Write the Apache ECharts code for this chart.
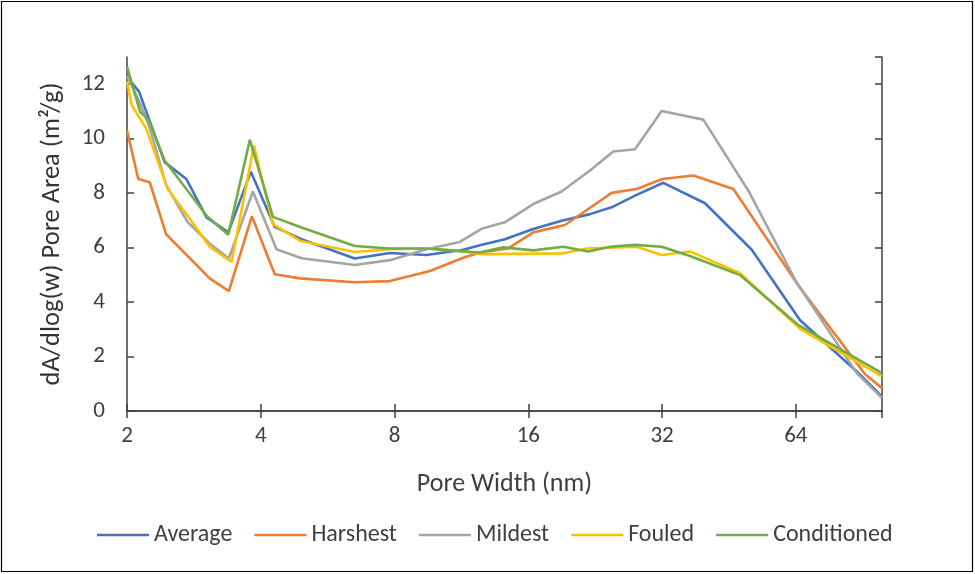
<!DOCTYPE html>
<html>
<head>
<meta charset="utf-8">
<script src="https://cdn.jsdelivr.net/npm/echarts@6/dist/echarts.min.js"></script>
<style>
  html, body { margin: 0; padding: 0; background: #fff; }
  #chart { width: 975px; height: 574px; }
</style>
</head>
<body>
<div id="chart"></div>
<script>
// Pore-size distributions (pore width in nm, dA/dlog(w) in m²/g)
const seriesNames = ['Average', 'Harshest', 'Mildest', 'Fouled', 'Conditioned'];

const averageWidths = [2.0, 2.13, 2.43, 2.72, 3.02, 3.38, 3.80, 4.30, 4.94, 6.51, 7.81, 9.44, 11.42, 12.45, 14.17, 16.41, 19.01, 22.02, 24.64, 27.81, 32.2, 39.97, 50.93, 65.41, 87.76, 100];
const averageValues = [12.28, 11.72, 9.14, 8.52, 7.11, 6.56, 8.79, 6.76, 6.31, 5.60, 5.80, 5.73, 5.92, 6.09, 6.31, 6.68, 6.99, 7.23, 7.48, 7.91, 8.38, 7.63, 5.92, 3.33, 1.45, 0.53];

const harshestWidths = [2.0, 2.12, 2.25, 2.45, 3.07, 3.39, 3.82, 4.30, 4.90, 6.51, 7.81, 9.61, 11.42, 12.45, 14.42, 16.41, 19.34, 21.83, 24.64, 28.05, 32.03, 37.62, 46.29, 64.8, 91.5, 100];
const harshestValues = [10.31, 8.52, 8.40, 6.49, 4.87, 4.40, 7.15, 5.02, 4.87, 4.73, 4.77, 5.14, 5.63, 5.82, 5.97, 6.56, 6.83, 7.42, 8.01, 8.15, 8.52, 8.65, 8.15, 4.62, 1.36, 0.84];

const mildestWidths = [2.0, 2.14, 2.25, 2.45, 2.74, 3.07, 3.39, 3.84, 4.34, 4.94, 6.51, 7.81, 9.44, 11.22, 12.55, 14.17, 16.41, 19.01, 22.02, 24.85, 27.81, 31.93, 39.62, 50.04, 64.3, 87.76, 100];
const mildestValues = [12.3, 11.3, 10.4, 8.3, 6.93, 6.15, 5.6, 8.06, 5.94, 5.61, 5.36, 5.54, 5.94, 6.21, 6.69, 6.93, 7.60, 8.06, 8.83, 9.53, 9.61, 11.02, 10.70, 8.09, 4.71, 1.39, 0.47];

const fouledWidths = [2.0, 2.05, 2.21, 2.47, 2.77, 3.07, 3.44, 3.86, 4.26, 4.92, 6.51, 7.81, 9.44, 11.2, 12.66, 19.17, 21.64, 28.05, 31.93, 36.98, 47.93, 65.41, 100];
const fouledValues = [12.1, 11.23, 10.37, 8.15, 7.05, 6.03, 5.47, 9.75, 6.86, 6.24, 5.84, 5.94, 5.97, 5.88, 5.76, 5.79, 5.97, 6.03, 5.73, 5.86, 5.06, 3.02, 1.27];

const conditionedWidths = [2.0, 2.14, 2.24, 2.43, 2.72, 3.02, 3.38, 3.78, 4.26, 4.94, 6.51, 7.81, 9.44, 11.03, 12.45, 14.05, 16.41, 19.17, 21.83, 24.43, 27.81, 31.93, 36.98, 47.93, 65.0, 100];
const conditionedValues = [12.65, 10.99, 10.68, 9.20, 8.15, 7.17, 6.47, 9.96, 7.13, 6.74, 6.06, 5.97, 5.97, 5.88, 5.82, 6.01, 5.90, 6.03, 5.86, 6.03, 6.10, 6.03, 5.69, 4.99, 3.14, 1.39];

const xAxisTitle = 'Pore Width (nm)';
const yAxisTitle = 'dA/dlog(w) Pore Area (m²/g)';

const seriesColors = ['#4472C4', '#ED7D31', '#A5A5A5', '#FFC000', '#70AD47'];
const widthSets = [averageWidths, harshestWidths, mildestWidths, fouledWidths, conditionedWidths];
const valueSets = [averageValues, harshestValues, mildestValues, fouledValues, conditionedValues];

const FONT = 'Carlito, Calibri, Lato, sans-serif';
const TEXT = '#404040';
const AXIS = '#404040';

const pair = (ws, vs) => ws.map((w, i) => [w, vs[i]]);

const frameAxis = {
  axisLine: { show: true, lineStyle: { color: AXIS, width: 1.5 } },
  axisTick: { show: true, inside: true, length: 7, lineStyle: { color: AXIS, width: 1.5 } },
  splitLine: { show: false },
  minorTick: { show: false }
};

const xBase = { type: 'log', logBase: 2, min: 2, max: 100 };
const yBase = { type: 'value', min: 0, max: 13, interval: 2 };

const chart = echarts.init(document.getElementById('chart'), null, { renderer: 'canvas' });

chart.setOption({
  animation: false,
  backgroundColor: '#ffffff',
  grid: { left: 127, top: 57, width: 755, height: 354, containLabel: false },
  xAxis: [
    Object.assign({}, xBase, frameAxis, {
      position: 'bottom',
      name: xAxisTitle,
      nameLocation: 'middle',
      nameGap: 60,
      nameTextStyle: { fontFamily: FONT, fontSize: 26, color: TEXT },
      axisLabel: {
        show: true, fontFamily: FONT, fontSize: 23, color: TEXT, margin: 14,
        showMaxLabel: false
      }
    }),
    Object.assign({}, xBase, frameAxis, {
      position: 'top',
      axisLabel: { show: false }
    })
  ],
  yAxis: [
    Object.assign({}, yBase, frameAxis, {
      position: 'left',
      name: yAxisTitle,
      nameLocation: 'middle',
      nameRotate: 90,
      nameGap: 61,
      nameTextStyle: { fontFamily: FONT, fontSize: 26.5, color: '#333' },
      axisLabel: {
        show: true, fontFamily: FONT, fontSize: 23, color: TEXT, margin: 22,
        showMaxLabel: false
      }
    }),
    Object.assign({}, yBase, frameAxis, {
      position: 'right',
      axisLabel: { show: false }
    })
  ],
  legend: {
    data: seriesNames,
    left: 92,
    top: 518,
    itemWidth: 52,
    itemHeight: 14,
    itemGap: 22,
    icon: 'path://M0,6 L52,6 L52,8.5 L0,8.5 Z',
    textStyle: { fontFamily: FONT, fontSize: 24, color: TEXT }
  },
  graphic: [{
    type: 'rect',
    shape: { x: 1.5, y: 1.5, width: 971, height: 570 },
    style: { fill: 'none', stroke: '#000', lineWidth: 1.2 },
    silent: true
  }],
  series: seriesNames.map((name, i) => ({
    name: name,
    type: 'line',
    xAxisIndex: 0,
    yAxisIndex: 0,
    data: pair(widthSets[i], valueSets[i]),
    symbol: 'none',
    showSymbol: false,
    smooth: false,
    clip: true,
    color: seriesColors[i],
    lineStyle: { color: seriesColors[i], width: 2.6 },
    itemStyle: { color: seriesColors[i] }
  }))
});
</script>
</body>
</html>
